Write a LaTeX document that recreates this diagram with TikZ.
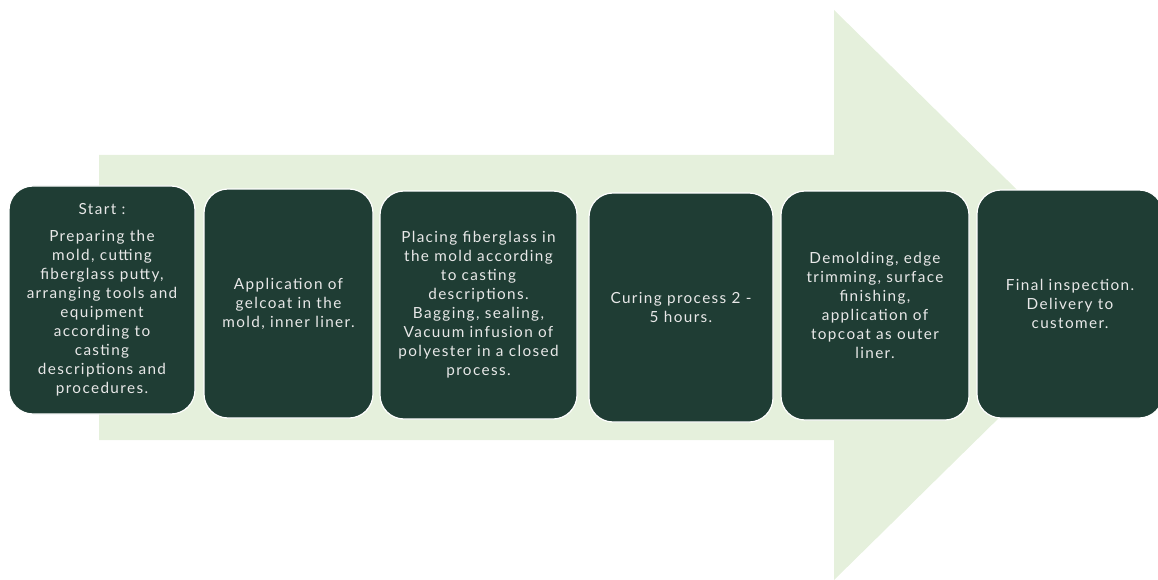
\documentclass[tikz,border=0pt]{standalone}
\usepackage{fontspec}
\setmainfont{Lato}[LetterSpace=9]
\definecolor{arrowgreen}{HTML}{E5F0DC}
\definecolor{boxgreen}{HTML}{1F3D34}
\definecolor{boxtext}{HTML}{E8E8E8}
\begin{document}
\begin{tikzpicture}[x=1pt,y=-1pt,
  stepbox/.style={draw=white, line width=1.2pt, fill=boxgreen, rounded corners=24pt,
    text=boxtext, align=center, inner sep=0pt,
    font=\fontsize{15.3}{19}\selectfont}]
\useasboundingbox (0,0) rectangle (1158,580);
\fill[arrowgreen] (99,155) -- (834,155) -- (834,10) -- (1124,295) -- (834,580)
  -- (834,440) -- (99,440) -- cycle;
\node[stepbox, minimum width=186pt, minimum height=228pt] (s1) at (102,300)
  {Start :\\[8pt]Preparing the\\mold, cutting\\fiberglass putty,\\arranging tools and\\equipment\\according to\\casting\\descriptions and\\procedures.};
\node[stepbox, minimum width=169pt, minimum height=229pt] (s2) at (288.5,303.5)
  {Application of\\gelcoat in the\\mold, inner liner.};
\node[stepbox, minimum width=197pt, minimum height=228pt] (s3) at (478.5,305)
  {Placing fiberglass in\\the mold according\\to casting\\descriptions.\\Bagging, sealing,\\Vacuum infusion of\\polyester in a closed\\process.};
\node[stepbox, minimum width=184pt, minimum height=229pt] (s4) at (681,307.5)
  {Curing process 2 -\\5 hours.};
\node[stepbox, minimum width=188pt, minimum height=229pt] (s5) at (875,305.5)
  {Demolding, edge\\trimming, surface\\finishing,\\application of\\topcoat as outer\\liner.};
\node[stepbox, minimum width=186pt, minimum height=228pt] (s6) at (1070,304)
  {Final inspection.\\Delivery to\\customer.};
\end{tikzpicture}
\end{document}
